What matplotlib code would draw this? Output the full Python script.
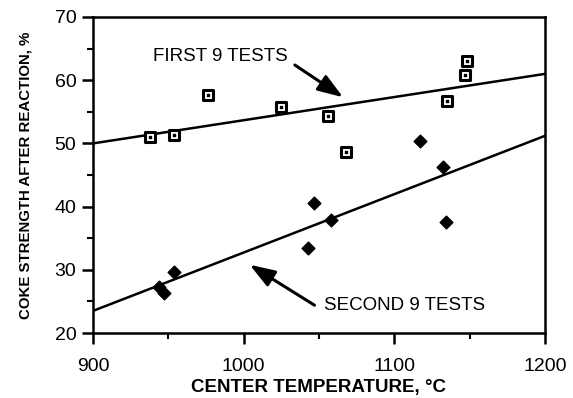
import matplotlib
matplotlib.use("Agg")
import matplotlib.pyplot as plt
from matplotlib.ticker import MultipleLocator

plt.rcParams['font.family'] = ['Liberation Sans', 'DejaVu Sans']

# first 9 tests (open squares)
first_temp = [938, 954, 976, 1025, 1056, 1068, 1135, 1147, 1148]
first_strength = [51.0, 51.3, 57.7, 55.8, 54.3, 48.6, 56.7, 60.8, 63.0]
first_fit = [50.0, 61.0]

# second 9 tests (filled diamonds)
second_temp = [944, 947, 954, 1043, 1047, 1058, 1117, 1132, 1134]
second_strength = [27.3, 26.3, 29.7, 33.4, 40.6, 37.9, 50.4, 46.3, 37.6]
second_fit = [23.5, 51.2]

fit_x = [900, 1200]

fig = plt.figure(figsize=(5.73, 3.98), dpi=100)
ax = fig.add_axes([0.1623, 0.1633, 0.7888, 0.794])

ax.plot(fit_x, first_fit, color='black', lw=1.8)
ax.plot(fit_x, second_fit, color='black', lw=1.8)

ax.scatter(first_temp, first_strength, marker='s', s=48, facecolor='white',
           edgecolor='black', linewidth=2.2, zorder=3)
ax.scatter(first_temp, first_strength, marker='s', s=3, color='black', zorder=4)
ax.scatter(second_temp, second_strength, marker='D', s=42, color='black', zorder=3)

arrow = dict(arrowstyle='-|>,head_length=0.85,head_width=0.3', color='black',
             lw=2.2, mutation_scale=18, shrinkA=0, shrinkB=0)
ax.text(940, 63.7, 'FIRST 9 TESTS', fontsize=13.5, va='center', ha='left')
ax.annotate('', xy=(1066, 57.3), xytext=(1034, 62.4), arrowprops=arrow)
ax.text(1053, 24.4, 'SECOND 9 TESTS', fontsize=13.5, va='center', ha='left')
ax.annotate('', xy=(1004, 30.8), xytext=(1047, 24.4), arrowprops=arrow)

ax.set_xlim(900, 1200)
ax.set_ylim(20, 70)
ax.xaxis.set_major_locator(MultipleLocator(100))
ax.xaxis.set_minor_locator(MultipleLocator(50))
ax.yaxis.set_major_locator(MultipleLocator(10))
ax.yaxis.set_minor_locator(MultipleLocator(5))
ax.tick_params(which='major', direction='out', length=8, width=1.8,
               labelsize=14, pad=4)
ax.tick_params(which='minor', direction='out', length=4, width=1.5)
ax.tick_params(axis='x', pad=10)
for s in ax.spines.values():
    s.set_linewidth(1.8)

ax.set_xlabel('CENTER TEMPERATURE, °C', fontsize=13.5, fontweight='bold', labelpad=3)
ax.set_ylabel('COKE STRENGTH AFTER REACTION, %', fontsize=10.8, fontweight='bold', labelpad=16)

fig.savefig('out.png', dpi=100)
